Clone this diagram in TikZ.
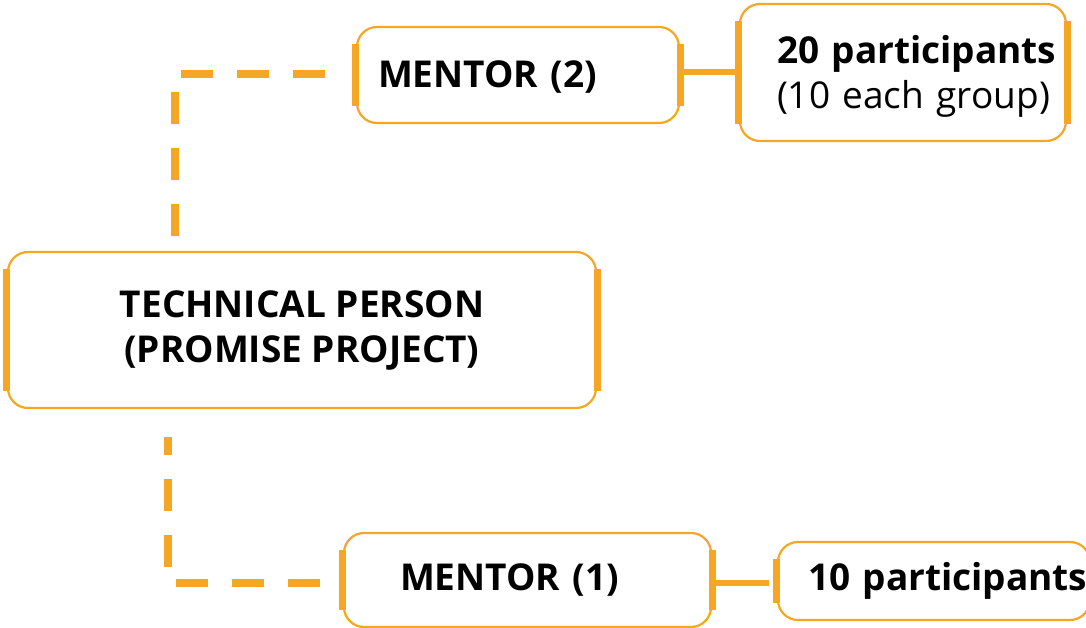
\documentclass[tikz,border=0pt]{standalone}
\usepackage{fontspec}
\setmainfont{Open Sans}
\definecolor{orng}{RGB}{245,166,35}
\tikzset{
  box/.style={draw=orng, line width=2.2pt, rounded corners=20pt, fill=white, inner sep=0pt, font=\fontsize{37}{45}\selectfont\bfseries},
  side/.style={draw=orng, line width=7pt},
  dashline/.style={draw=orng, line width=8pt, dash pattern=on 32pt off 24pt},
  solidline/.style={draw=orng, line width=6pt},
}
\newcommand\boxsides[1]{%
  \draw[side] ([yshift=-18pt]#1.north west) -- ([yshift=18pt]#1.south west);
  \draw[side] ([yshift=-18pt]#1.north east) -- ([yshift=18pt]#1.south east);}
\begin{document}
\begin{tikzpicture}[x=1pt,y=-1pt]
\useasboundingbox (0,0) rectangle (1086,628);
\clip (0,0) rectangle (1086,628);
% boxes
\node[box, minimum width=588pt, minimum height=156pt, align=center] (tech) at (302,330) {TECHNICAL PERSON\\(PROMISE PROJECT)};
\node[box, minimum width=322pt, minimum height=96pt, text width=280pt, align=left] (m2) at (518,75) {\rule{0pt}{30pt}MENTOR (2)};
\node[box, minimum width=326pt, minimum height=137pt, text width=252pt, align=left] (p20) at (903,72.5) {\rule{0pt}{36pt}\mbox{20 participants}\\\mdseries\mbox{(10 each group)}};
\node[box, minimum width=367pt, minimum height=94pt, text width=255pt, align=left] (m1) at (527.5,580) {\mbox{MENTOR (1)}};
\node[box, minimum width=312pt, minimum height=78pt, text width=252pt, align=left] (p10) at (934,581) {\mbox{10 participants}};
\boxsides{tech}
\boxsides{m2}
\boxsides{p20}
\boxsides{m1}
\boxsides{p10}
% connectors
\coordinate (a1) at (175,236);
\coordinate (a2) at (330,74);
\draw[dashline] (a1) |- (a2);
\coordinate (b1) at (320,583);
\coordinate (b2) at (168,437);
\draw[dashline] (b1) -| (b2);
\draw[solidline] (m2.east |- 0,72) -- (p20.west |- 0,72);
\draw[solidline, shorten >=8pt] (m1.east |- 0,583) -- (p10.west |- 0,583);
\end{tikzpicture}
\end{document}
